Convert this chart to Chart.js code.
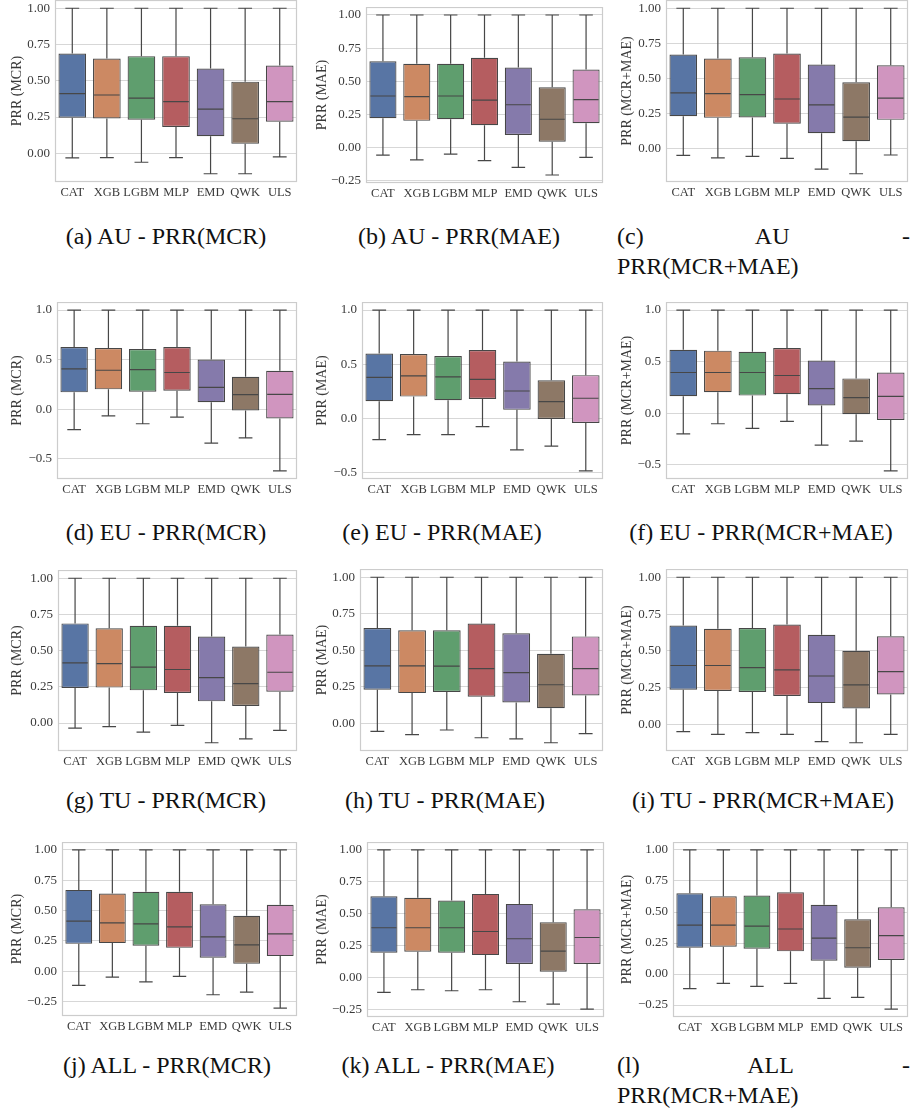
<!DOCTYPE html>
<html>
<head>
<meta charset="utf-8">
<script src="https://cdn.jsdelivr.net/npm/chart.js@4.4.1/dist/chart.umd.min.js"></script>
<style>
  body { margin: 0; background: #fff; width: 914px; height: 1113px; position: relative; overflow: hidden;
         font-family: "Liberation Serif", "DejaVu Serif", serif; }
  canvas { position: absolute; }
  .cap { position: absolute; font-size: 24px; color: #111; white-space: nowrap; line-height: 30px; text-align: center; }
  .cap .l1 { text-align: justify; text-align-last: justify; }
</style>
</head>
<body>
<script>
// Categories
const models = ['CAT', 'XGB', 'LGBM', 'MLP', 'EMD', 'QWK', 'ULS'];

// One row per model: [lower whisker, q1, median, q3, upper whisker]
const auMcr = [
  [-0.032, 0.245, 0.411, 0.688, 1], [-0.030, 0.240, 0.402, 0.654, 1], [-0.062, 0.231, 0.381, 0.670, 1],
  [-0.030, 0.182, 0.356, 0.670, 1], [-0.141, 0.118, 0.305, 0.584, 1], [-0.141, 0.065, 0.238, 0.494, 1],
  [-0.025, 0.217, 0.356, 0.605, 1]
];
const auMae = [
  [-0.056, 0.223, 0.390, 0.651, 1], [-0.091, 0.203, 0.385, 0.633, 1], [-0.048, 0.215, 0.390, 0.633, 1],
  [-0.096, 0.170, 0.359, 0.678, 1], [-0.147, 0.096, 0.324, 0.605, 1], [-0.205, 0.046, 0.215, 0.456, 1],
  [-0.073, 0.185, 0.362, 0.590, 1]
];
const auBoth = [
  [-0.045, 0.233, 0.398, 0.671, 1], [-0.064, 0.221, 0.393, 0.643, 1], [-0.052, 0.224, 0.386, 0.652, 1],
  [-0.067, 0.179, 0.355, 0.679, 1], [-0.143, 0.112, 0.314, 0.600, 1], [-0.176, 0.055, 0.226, 0.474, 1],
  [-0.043, 0.207, 0.362, 0.595, 1]
];
const euMcr = [
  [-0.207, 0.170, 0.407, 0.627, 1], [-0.067, 0.200, 0.393, 0.617, 1], [-0.147, 0.177, 0.400, 0.607, 1],
  [-0.080, 0.187, 0.370, 0.627, 1], [-0.343, 0.070, 0.220, 0.500, 1], [-0.290, -0.013, 0.147, 0.327, 1],
  [-0.623, -0.093, 0.150, 0.387, 1]
];
const euMae = [
  [-0.195, 0.159, 0.378, 0.598, 1], [-0.149, 0.201, 0.393, 0.595, 1], [-0.149, 0.168, 0.384, 0.576, 1],
  [-0.076, 0.180, 0.360, 0.631, 1], [-0.290, 0.079, 0.253, 0.524, 1], [-0.256, -0.006, 0.155, 0.351, 1],
  [-0.485, -0.043, 0.186, 0.399, 1]
];
const euBoth = [
  [-0.202, 0.163, 0.394, 0.615, 1], [-0.103, 0.202, 0.394, 0.606, 1], [-0.147, 0.170, 0.394, 0.596, 1],
  [-0.080, 0.183, 0.365, 0.631, 1], [-0.311, 0.074, 0.237, 0.510, 1], [-0.272, -0.010, 0.151, 0.337, 1],
  [-0.561, -0.067, 0.163, 0.394, 1]
];
const tuMcr = [
  [-0.035, 0.242, 0.416, 0.688, 1], [-0.025, 0.245, 0.411, 0.654, 1], [-0.062, 0.226, 0.386, 0.672, 1],
  [-0.016, 0.208, 0.370, 0.672, 1], [-0.136, 0.150, 0.314, 0.598, 1], [-0.109, 0.118, 0.273, 0.529, 1],
  [-0.051, 0.217, 0.351, 0.612, 1]
];
const tuMae = [
  [-0.055, 0.230, 0.393, 0.653, 1], [-0.078, 0.207, 0.393, 0.637, 1], [-0.046, 0.214, 0.391, 0.637, 1],
  [-0.099, 0.182, 0.375, 0.683, 1], [-0.106, 0.143, 0.347, 0.616, 1], [-0.133, 0.103, 0.264, 0.476, 1],
  [-0.071, 0.191, 0.375, 0.595, 1]
];
const tuBoth = [
  [-0.048, 0.237, 0.401, 0.672, 1], [-0.066, 0.228, 0.401, 0.651, 1], [-0.055, 0.221, 0.387, 0.656, 1],
  [-0.066, 0.194, 0.371, 0.679, 1], [-0.116, 0.146, 0.330, 0.610, 1], [-0.123, 0.109, 0.269, 0.501, 1],
  [-0.066, 0.205, 0.360, 0.599, 1]
];
const allMcr = [
  [-0.118, 0.225, 0.412, 0.670, 1], [-0.049, 0.231, 0.398, 0.640, 1], [-0.088, 0.209, 0.390, 0.654, 1],
  [-0.044, 0.192, 0.365, 0.654, 1], [-0.195, 0.110, 0.283, 0.552, 1], [-0.173, 0.060, 0.217, 0.456, 1],
  [-0.305, 0.124, 0.308, 0.547, 1]
];
const allMae = [
  [-0.115, 0.195, 0.391, 0.638, 1], [-0.094, 0.203, 0.391, 0.625, 1], [-0.102, 0.195, 0.391, 0.604, 1],
  [-0.094, 0.177, 0.362, 0.656, 1], [-0.188, 0.107, 0.305, 0.578, 1], [-0.206, 0.047, 0.208, 0.435, 1],
  [-0.245, 0.107, 0.315, 0.536, 1]
];
const allBoth = [
  [-0.118, 0.212, 0.395, 0.651, 1], [-0.075, 0.220, 0.395, 0.626, 1], [-0.099, 0.204, 0.387, 0.632, 1],
  [-0.075, 0.183, 0.363, 0.659, 1], [-0.196, 0.108, 0.290, 0.559, 1], [-0.188, 0.051, 0.212, 0.441, 1],
  [-0.282, 0.113, 0.309, 0.538, 1]
];

// Tick values
const ticksQuarter = [-0.25, 0, 0.25, 0.5, 0.75, 1];
const ticksHalf = [-0.5, 0, 0.5, 1];

// Styles
const boxColors = ['#5875a4', '#cc8963', '#5f9e6e', '#b55d60', '#857aab', '#8d7866', '#d095bf'];
const lineColor = '#474747';
const gridColor = '#d7d7d7';
const textColor = '#3a3a3a';
const fontFamily = '"Liberation Serif", "DejaVu Serif", serif';
const titleX = [17, 322, 627];   // centre of the rotated y title, per column

// frame: [left, top, right, bottom] of the plot area
const panels = [
  { rows: auMcr,  title: 'PRR (MCR)',     ticks: ticksQuarter, dec: 2, col: 0, frame: [55, 0, 297, 182] },
  { rows: auMae,  title: 'PRR (MAE)',     ticks: ticksQuarter, dec: 2, col: 1, frame: [366, 7, 603, 183] },
  { rows: auBoth, title: 'PRR (MCR+MAE)', ticks: ticksQuarter, dec: 2, col: 2, frame: [666, 0, 908, 182] },
  { rows: euMcr,  title: 'PRR (MCR)',     ticks: ticksHalf,    dec: 1, col: 0, frame: [57, 302, 297, 479] },
  { rows: euMae,  title: 'PRR (MAE)',     ticks: ticksHalf,    dec: 1, col: 1, frame: [362, 302, 603, 479] },
  { rows: euBoth, title: 'PRR (MCR+MAE)', ticks: ticksHalf,    dec: 1, col: 2, frame: [666, 302, 908, 479] },
  { rows: tuMcr,  title: 'PRR (MCR)',     ticks: ticksQuarter, dec: 2, col: 0, frame: [58, 570, 297, 751] },
  { rows: tuMae,  title: 'PRR (MAE)',     ticks: ticksQuarter, dec: 2, col: 1, frame: [360, 569, 603, 751] },
  { rows: tuBoth, title: 'PRR (MCR+MAE)', ticks: ticksQuarter, dec: 2, col: 2, frame: [666, 569, 908, 751] },
  { rows: allMcr, title: 'PRR (MCR)',     ticks: ticksQuarter, dec: 2, col: 0, frame: [62, 842, 297, 1016] },
  { rows: allMae, title: 'PRR (MAE)',     ticks: ticksQuarter, dec: 2, col: 1, frame: [367, 842, 604, 1017] },
  { rows: allBoth,title: 'PRR (MCR+MAE)', ticks: ticksQuarter, dec: 2, col: 2, frame: [673, 842, 908, 1017] }
];

const captions = [
  { text: '(a) AU - PRR(MCR)', cx: 166, cy: 236 },
  { text: '(b) AU - PRR(MAE)', cx: 459, cy: 236 },
  { line1: '(c) AU -', line2: 'PRR(MCR+MAE)', left: 617, right: 910, cy: 236 },
  { text: '(d) EU - PRR(MCR)', cx: 166, cy: 532 },
  { text: '(e) EU - PRR(MAE)', cx: 442, cy: 532 },
  { text: '(f) EU - PRR(MCR+MAE)', cx: 761, cy: 532 },
  { text: '(g) TU - PRR(MCR)', cx: 166, cy: 800 },
  { text: '(h) TU - PRR(MAE)', cx: 445, cy: 800 },
  { text: '(i) TU - PRR(MCR+MAE)', cx: 763, cy: 800 },
  { text: '(j) ALL - PRR(MCR)', cx: 167, cy: 1065 },
  { text: '(k) ALL - PRR(MAE)', cx: 448, cy: 1065 },
  { line1: '(l) ALL -', line2: 'PRR(MCR+MAE)', left: 617, right: 910, cy: 1065 }
];

// whiskers, caps, medians and the grey frame
const boxPlugin = {
  id: 'boxes',
  beforeDatasetsDraw(chart) {
    const a = chart.chartArea;
    const ctx = chart.ctx;
    ctx.save();
    ctx.strokeStyle = '#cccccc';
    ctx.lineWidth = 1.2;
    ctx.strokeRect(a.left + 0.5, a.top + 0.5, a.width - 1, a.height - 1);
    ctx.restore();
  },
  afterDatasetsDraw(chart) {
    const rows = chart.options.plugins.boxes.rows;
    const y = chart.scales.y;
    const ctx = chart.ctx;
    ctx.save();
    ctx.strokeStyle = lineColor;
    ctx.lineWidth = 1.2;
    chart.getDatasetMeta(0).data.forEach((bar, i) => {
      const [lo, q1, med, q3, hi] = rows[i];
      const cx = bar.x, half = bar.width / 2, cap = bar.width / 4;
      const pLo = y.getPixelForValue(lo), pQ1 = y.getPixelForValue(q1);
      const pMed = y.getPixelForValue(med), pQ3 = y.getPixelForValue(q3), pHi = y.getPixelForValue(hi);
      ctx.beginPath();
      ctx.moveTo(cx, pQ3); ctx.lineTo(cx, pHi);
      ctx.moveTo(cx, pQ1); ctx.lineTo(cx, pLo);
      ctx.moveTo(cx - cap, pHi); ctx.lineTo(cx + cap, pHi);
      ctx.moveTo(cx - cap, pLo); ctx.lineTo(cx + cap, pLo);
      ctx.moveTo(cx - half + 1, pMed); ctx.lineTo(cx + half - 1, pMed);
      ctx.stroke();
    });
    ctx.restore();
  }
};

function fmt(v, dec) {
  return v.toFixed(dec).replace('-', '\u2212');
}

const xAxisH = 24;

panels.forEach(p => {
  const [fl, ft, fr, fb] = p.frame;
  const cl = titleX[p.col] - 8;
  const yW = fl - cl;
  const canvas = document.createElement('canvas');
  canvas.width = fr - cl + 1;
  canvas.height = fb - ft + xAxisH;
  canvas.style.left = cl + 'px';
  canvas.style.top = ft + 'px';
  document.body.appendChild(canvas);

  // matplotlib-style 5% margins around the whisker range
  const lows = p.rows.map(r => r[0]);
  const highs = p.rows.map(r => r[4]);
  const dMin = Math.min(...lows), dMax = Math.max(...highs);
  const pad = (dMax - dMin) * 0.05;

  new Chart(canvas, {
    type: 'bar',
    data: {
      labels: models,
      datasets: [{
        data: p.rows.map(r => [r[1], r[3]]),
        backgroundColor: boxColors,
        borderColor: lineColor,
        borderWidth: 1.2,
        borderSkipped: false,
        barPercentage: 0.8,
        categoryPercentage: 1.0
      }]
    },
    options: {
      responsive: false,
      animation: false,
      devicePixelRatio: 1,
      layout: { padding: { top: 0, right: 1, bottom: 0, left: 0 } },
      plugins: {
        legend: { display: false },
        tooltip: { enabled: false },
        boxes: { rows: p.rows }
      },
      scales: {
        x: {
          offset: true,
          grid: { display: false, drawTicks: false },
          border: { display: false },
          ticks: { padding: 3, color: textColor, autoSkip: false, maxRotation: 0,
                   font: { family: fontFamily, size: 12.5 } },
          afterFit: s => { s.height = xAxisH; s.paddingLeft = 0; s.paddingRight = 0; }
        },
        y: {
          min: dMin - pad,
          max: dMax + pad,
          afterBuildTicks: s => {
            s.ticks = p.ticks.filter(v => v >= s.min && v <= s.max).map(v => ({ value: v }));
          },
          afterFit: s => { s.width = yW; s.paddingTop = 0; s.paddingBottom = 0; },
          grid: { color: gridColor, lineWidth: 1, drawTicks: false },
          border: { display: false },
          ticks: { padding: 5, color: textColor, font: { family: fontFamily, size: 13 },
                   callback: v => fmt(v, p.dec) },
          title: { display: true, text: p.title, color: textColor, padding: { top: 0, bottom: 0 },
                   font: { family: fontFamily, size: 14 } }
        }
      }
    },
    plugins: [boxPlugin]
  });
});

captions.forEach(c => {
  const div = document.createElement('div');
  div.className = 'cap';
  if (c.text) {
    div.textContent = c.text;
    div.style.left = (c.cx - 200) + 'px';
    div.style.width = '400px';
    div.style.top = (c.cy - 15) + 'px';
  } else {
    div.style.left = c.left + 'px';
    div.style.width = (c.right - c.left) + 'px';
    div.style.top = (c.cy - 15) + 'px';
    div.style.whiteSpace = 'normal';
    div.style.textAlign = 'left';
    const l1 = document.createElement('div');
    l1.className = 'l1';
    l1.textContent = c.line1;
    const l2 = document.createElement('div');
    l2.textContent = c.line2;
    div.appendChild(l1);
    div.appendChild(l2);
  }
  document.body.appendChild(div);
});
</script>
</body>
</html>
